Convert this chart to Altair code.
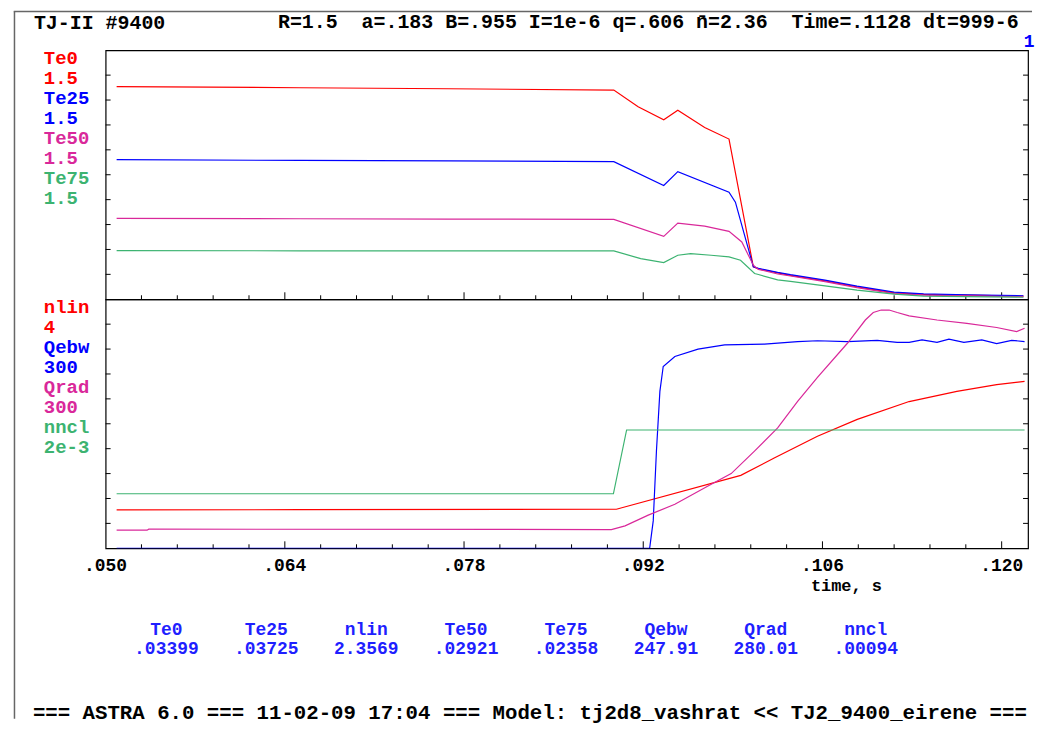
import altair as alt
import pandas as pd

# ---------------- data ----------------
HEADER_LEFT = "TJ-II #9400"
HEADER_RIGHT = "R=1.5  a=.183 B=.955 I=1e-6 q=.606 n\u0304=2.36  Time=.1128 dt=999-6"
CORNER = "1"
FOOTER = "=== ASTRA 6.0 === 11-02-09 17:04 === Model: tj2d8_vashrat << TJ2_9400_eirene ==="
X_TITLE = "time, s"

TOP_NAMES = ["Te0", "Te25", "Te50", "Te75"]
TOP_SCALES = ["1.5", "1.5", "1.5", "1.5"]
BOT_NAMES = ["nlin", "Qebw", "Qrad", "nncl"]
BOT_SCALES = ["4", "300", "300", "2e-3"]

TABLE_NAMES = ["Te0", "Te25", "nlin", "Te50", "Te75", "Qebw", "Qrad", "nncl"]
TABLE_VALUES = [".03399", ".03725", "2.3569", ".02921", ".02358", "247.91", "280.01", ".00094"]

X_DOMAIN = [0.05, 0.12206]
X_LABEL_POS = [0.050, 0.064, 0.078, 0.092, 0.106, 0.120]
X_LABEL_TXT = [".050", ".064", ".078", ".092", ".106", ".120"]
X_MAJOR = [0.064, 0.078, 0.092, 0.106, 0.120]
X_MINOR = [0.0528, 0.0556, 0.0584, 0.0612, 0.0668, 0.0696, 0.0724, 0.0752,
           0.0808, 0.0836, 0.0864, 0.0892, 0.0948, 0.0976, 0.1004, 0.1032,
           0.1088, 0.1116, 0.1144, 0.1172]
TOP_DOMAIN = [0, 1.5]
TOP_YTICKS = [0.15, 0.30, 0.45, 0.60, 0.75, 0.90, 1.05, 1.20, 1.35]
NLIN_DOMAIN = [0, 4]
NLIN_YTICKS = [0.4, 0.8, 1.2, 1.6, 2.0, 2.4, 2.8, 3.2, 3.6]
Q_DOMAIN = [0, 300]
NNCL_DOMAIN = [0, 0.002]

# Te0
TE0_T = [0.05086, 0.0652, 0.0768, 0.0897, 0.0916, 0.0936, 0.0947, 0.0968, 0.0987,
         0.1006, 0.1010, 0.1025, 0.1035, 0.1062, 0.1087, 0.1116, 0.1139, 0.1173, 0.1217]
TE0_V = [1.281, 1.274, 1.268, 1.260, 1.159, 1.081, 1.139, 1.035, 0.965,
         0.195, 0.183, 0.159, 0.144, 0.111, 0.075, 0.039, 0.029, 0.025, 0.019]
# Te25
TE25_T = [0.05086, 0.0652, 0.0768, 0.0897, 0.0936, 0.0947, 0.0987, 0.0992,
          0.1006, 0.1010, 0.1025, 0.1035, 0.1062, 0.1087, 0.1116, 0.1139, 0.1173, 0.1217]
TE25_V = [0.841, 0.836, 0.833, 0.829, 0.685, 0.769, 0.645, 0.585,
          0.195, 0.186, 0.162, 0.148, 0.115, 0.079, 0.043, 0.033, 0.027, 0.021]
# Te50
TE50_T = [0.05086, 0.0652, 0.0768, 0.0897, 0.0936, 0.0947, 0.0968, 0.0987, 0.0997,
          0.1006, 0.1010, 0.1025, 0.1035, 0.1062, 0.1087, 0.1116, 0.1139, 0.1173, 0.1217]
TE50_V = [0.487, 0.485, 0.483, 0.481, 0.379, 0.459, 0.441, 0.409, 0.345,
          0.205, 0.180, 0.152, 0.140, 0.106, 0.070, 0.034, 0.025, 0.020, 0.016]
# Te75
TE75_T = [0.05086, 0.0652, 0.0768, 0.0897, 0.0918, 0.0936, 0.0947, 0.0957, 0.0973,
          0.0987, 0.0996, 0.1007, 0.1010, 0.1025, 0.1035, 0.1062, 0.1087, 0.1116,
          0.1139, 0.1190, 0.1217]
TE75_V = [0.293, 0.292, 0.292, 0.291, 0.245, 0.221, 0.265, 0.275, 0.265,
          0.255, 0.235, 0.155, 0.149, 0.117, 0.108, 0.081, 0.055, 0.031,
          0.019, 0.014, 0.012]

# nlin
NLIN_T = [0.05086, 0.06517, 0.08990, 0.09962, 0.10227, 0.10561, 0.10872, 0.11277,
          0.11650, 0.11961, 0.12179]
NLIN_V = [0.616, 0.620, 0.627, 1.171, 1.453, 1.80, 2.07, 2.357, 2.52, 2.63, 2.68]
# Qebw
QEBW_T = [0.05086, 0.09250, 0.09278, 0.09303, 0.09330, 0.09356, 0.09447, 0.09628,
          0.09836, 0.10147, 0.10406, 0.10561, 0.10795, 0.11028, 0.11184, 0.11277,
          0.11378, 0.11495, 0.11588, 0.11705, 0.11845, 0.11961, 0.12078, 0.12179]
QEBW_V = [0, 0, 33, 117, 189, 219, 231, 240, 245, 246, 249, 250, 249, 250.5, 248, 248,
          251, 248, 252, 248, 251, 246.5, 250.5, 249]
# Qrad
QRAD_T = [0.05086, 0.05324, 0.05337, 0.08951, 0.09058, 0.09239, 0.09447, 0.09706,
          0.09887, 0.10069, 0.10250, 0.10406, 0.10561, 0.10795, 0.10935, 0.10997,
          0.11059, 0.11121, 0.11184, 0.11277, 0.11495, 0.11728, 0.11961, 0.12117, 0.12179]
QRAD_V = [21.8, 21.8, 23.0, 22.6, 27, 40, 53, 75, 90, 117, 145, 177, 206, 247, 275,
          284, 287, 287, 284, 280, 275, 271, 266, 261, 265]
# nncl
NNCL_T = [0.05086, 0.08967, 0.09070, 0.12179]
NNCL_V = [0.000438, 0.000438, 0.00095, 0.00095]

# ---------------- style ----------------
FONT = "Liberation Mono"
RED = "#ff0000"
BLUE = "#0000ff"
MAG = "#d9289a"
GREEN = "#3cb371"
TBLUE = "#1f1fff"
FRAME = "#666666"
W, H = 926, 250
NB = "\u00a0"


def xsc():
    return alt.Scale(domain=X_DOMAIN, nice=False, zero=False)


def line(t, v, color, domain, clip=False):
    df = pd.DataFrame({"t": t, "v": v})
    return alt.Chart(df).mark_line(color=color, strokeWidth=1.2, clip=clip).encode(
        x=alt.X("t:Q", scale=xsc(), axis=None),
        y=alt.Y("v:Q", scale=alt.Scale(domain=domain, nice=False, zero=False), axis=None),
    )


def xticks(vals, length):
    df = pd.DataFrame({"t": vals})
    return alt.Chart(df).mark_rule(color="black", strokeWidth=1).encode(
        x=alt.X("t:Q", scale=xsc(), axis=None),
        y=alt.value(H), y2=alt.value(H - length),
    )


def yticks(vals, domain):
    df = pd.DataFrame({"v": vals})
    ys = alt.Y("v:Q", scale=alt.Scale(domain=domain, nice=False, zero=False), axis=None)
    left = alt.Chart(df).mark_rule(color="black", strokeWidth=1).encode(
        y=ys, x=alt.value(0), x2=alt.value(5))
    right = alt.Chart(df).mark_rule(color="black", strokeWidth=1).encode(
        y=ys, x=alt.value(W - 5), x2=alt.value(W))
    return [left, right]


def side_labels(names, scales, colors):
    rows = []
    for i, (n, s, c) in enumerate(zip(names, scales, colors)):
        rows.append({"txt": n, "col": c, "row": 2 * i})
        rows.append({"txt": s, "col": c, "row": 2 * i + 1})
    df = pd.DataFrame(rows)
    return alt.Chart(df).transform_calculate(py="7.5 + 20.1*datum.row").mark_text(
        align="left", baseline="middle", font=FONT, fontSize=19, fontWeight="bold"
    ).encode(
        x=alt.value(-62),
        y=alt.Y("py:Q", scale=None, axis=None),
        text="txt:N",
        color=alt.Color("col:N", scale=None, legend=None),
    )


def text_at(s, x, y, size=20, color="black", align="left"):
    df = pd.DataFrame({"s": [s.replace(" ", NB)]})
    return alt.Chart(df).mark_text(
        align=align, baseline="middle", font=FONT, fontSize=size, fontWeight="bold", color=color
    ).encode(x=alt.value(x), y=alt.value(y), text="s:N")


def hline(x1, x2, y, color, width):
    df = pd.DataFrame({"k": [0]})
    return alt.Chart(df).mark_rule(color=color, strokeWidth=width).encode(
        x=alt.value(x1), x2=alt.value(x2), y=alt.value(y), y2=alt.value(y))


def vline(x, y1, y2, color, width):
    df = pd.DataFrame({"k": [0]})
    return alt.Chart(df).mark_rule(color=color, strokeWidth=width).encode(
        x=alt.value(x), x2=alt.value(x), y=alt.value(y1), y2=alt.value(y2))


# ---------------- top panel ----------------
top_layers = [
    hline(-96.5, -95.5, -39, "white", 1),          # layout anchor
    hline(-92.25, 930, -39, FRAME, 1.5),           # outer frame top
    vline(-91.5, -39, 671, FRAME, 1.5),            # outer frame left
    text_at(HEADER_LEFT, -72, -27.5),
    text_at(HEADER_RIGHT, 173, -28, size=20),
    text_at(CORNER, 927, -8, size=18, color=BLUE, align="center"),
    side_labels(TOP_NAMES, TOP_SCALES, [RED, BLUE, MAG, GREEN]),
    xticks(X_MINOR, 4),
    xticks(X_MAJOR, 7),
    *yticks(TOP_YTICKS, TOP_DOMAIN),
    line(TE0_T, TE0_V, RED, TOP_DOMAIN),
    line(TE25_T, TE25_V, BLUE, TOP_DOMAIN),
    line(TE50_T, TE50_V, MAG, TOP_DOMAIN),
    line(TE75_T, TE75_V, GREEN, TOP_DOMAIN),
]
top = alt.layer(*top_layers).properties(width=W, height=H).resolve_scale(
    x="independent", y="independent")

# ---------------- bottom panel ----------------
xlab_df = pd.DataFrame({"t": X_LABEL_POS, "lab": X_LABEL_TXT})
xlabels = alt.Chart(xlab_df).mark_text(
    align="center", baseline="middle", font=FONT, fontSize=18, fontWeight="bold", color="black"
).encode(x=alt.X("t:Q", scale=xsc(), axis=None), y=alt.value(H + 17.5), text="lab:N")

tab_df = pd.DataFrame({"name": TABLE_NAMES, "val": TABLE_VALUES, "i": list(range(len(TABLE_NAMES)))})
tab_base = alt.Chart(tab_df).transform_calculate(px="61 + 100.3*datum.i")
tab_names = tab_base.mark_text(
    align="center", baseline="middle", font=FONT, fontSize=18, fontWeight="bold", color=TBLUE
).encode(x=alt.X("px:Q", scale=None, axis=None), y=alt.value(332.5), text="name:N")
tab_vals = tab_base.mark_text(
    align="center", baseline="middle", font=FONT, fontSize=18, fontWeight="bold", color=TBLUE
).encode(x=alt.X("px:Q", scale=None, axis=None), y=alt.value(351.5), text="val:N")

bot_layers = [
    side_labels(BOT_NAMES, BOT_SCALES, [RED, BLUE, MAG, GREEN]),
    xticks(X_MINOR, 4),
    xticks(X_MAJOR, 7),
    *yticks(NLIN_YTICKS, NLIN_DOMAIN),
    xlabels,
    text_at(X_TITLE, 708, 288, size=17),
    tab_names,
    tab_vals,
    text_at(FOOTER, -73, 415, size=20.8),
    line(NLIN_T, NLIN_V, RED, NLIN_DOMAIN),
    line(QEBW_T, QEBW_V, BLUE, Q_DOMAIN, clip=True),
    line(QRAD_T, QRAD_V, MAG, Q_DOMAIN),
    line(NNCL_T, NNCL_V, GREEN, NNCL_DOMAIN),
]
bottom = alt.layer(*bot_layers).properties(width=W, height=H).resolve_scale(
    x="independent", y="independent")

chart = alt.vconcat(top, bottom, spacing=0, bounds="flush").properties(
    padding=0, background="white"
).configure_view(stroke="black", strokeWidth=1.2)

chart.save("out.html", embed_options={"renderer": "svg", "actions": False})
